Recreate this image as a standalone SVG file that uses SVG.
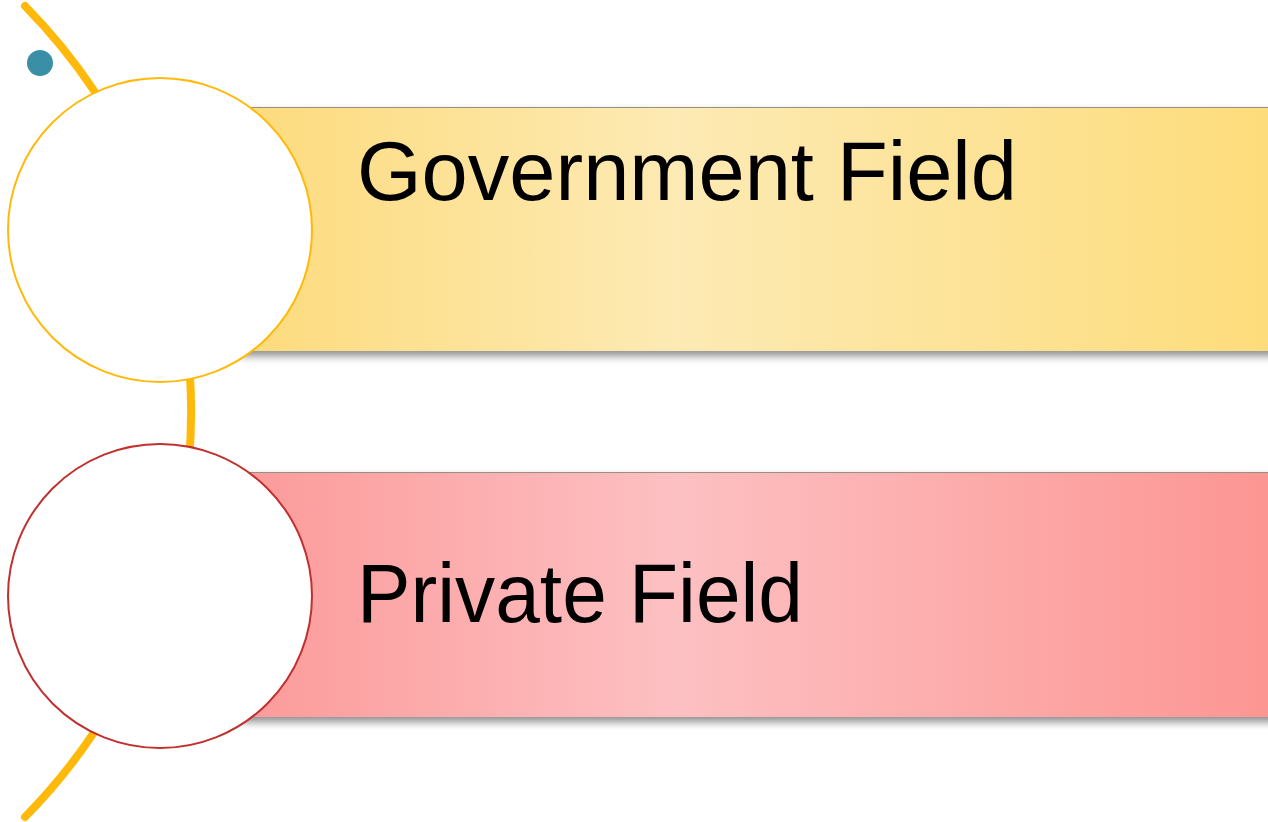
<svg xmlns="http://www.w3.org/2000/svg" width="1268" height="822" viewBox="0 0 1268 822">
  <defs>
    <linearGradient id="gold" x1="0" y1="0" x2="1" y2="0">
      <stop offset="0" stop-color="#FDDB7C"/>
      <stop offset="0.42" stop-color="#FDEAB4"/>
      <stop offset="1" stop-color="#FDDC7A"/>
    </linearGradient>
    <linearGradient id="rose" x1="0" y1="0" x2="1" y2="0">
      <stop offset="0" stop-color="#FC9A9A"/>
      <stop offset="0.42" stop-color="#FDC0C2"/>
      <stop offset="1" stop-color="#FC9592"/>
    </linearGradient>
    <filter id="shadow" x="-5%" y="-10%" width="110%" height="130%">
      <feGaussianBlur in="SourceAlpha" stdDeviation="4"/>
      <feOffset dx="0" dy="5" result="b"/>
      <feComponentTransfer><feFuncA type="linear" slope="0.45"/></feComponentTransfer>
      <feMerge><feMergeNode/><feMergeNode in="SourceGraphic"/></feMerge>
    </filter>
  </defs>
  <style>
    .bar-edge { stroke: #9a9080; stroke-width: 1; }
    .label { font-family: "Gill Sans", "Liberation Sans", Arial, sans-serif; font-size: 84px; fill: #000; }
    .node-circle { fill: #ffffff; stroke-width: 2; }
  </style>

  <rect width="1268" height="822" fill="#ffffff"/>

  <!-- connecting arc behind the circles -->
  <g id="connectors">
    <path d="M 25 6 A 578 578 0 0 1 25 817" fill="none" stroke="#FFB90A" stroke-width="8" stroke-linecap="round"/>
  </g>

  <circle id="bullet" cx="40" cy="63" r="13" fill="#3A8FA6"/>

  <g id="government">
    <rect x="240" y="107" width="1040" height="244" fill="url(#gold)" filter="url(#shadow)"/>
    <line x1="240" y1="107.5" x2="1268" y2="107.5" class="bar-edge"/>
    <circle cx="160" cy="230" r="152" class="node-circle" stroke="#FFB90A"/>
    <text x="357" y="200" class="label" textLength="660" lengthAdjust="spacingAndGlyphs">Government Field</text>
  </g>

  <g id="private">
    <rect x="240" y="472" width="1040" height="245" fill="url(#rose)" filter="url(#shadow)"/>
    <line x1="240" y1="472.5" x2="1268" y2="472.5" class="bar-edge"/>
    <circle cx="160" cy="596" r="152" class="node-circle" stroke="#C0302F"/>
    <text x="357" y="622" class="label" textLength="446" lengthAdjust="spacingAndGlyphs">Private Field</text>
  </g>
</svg>
